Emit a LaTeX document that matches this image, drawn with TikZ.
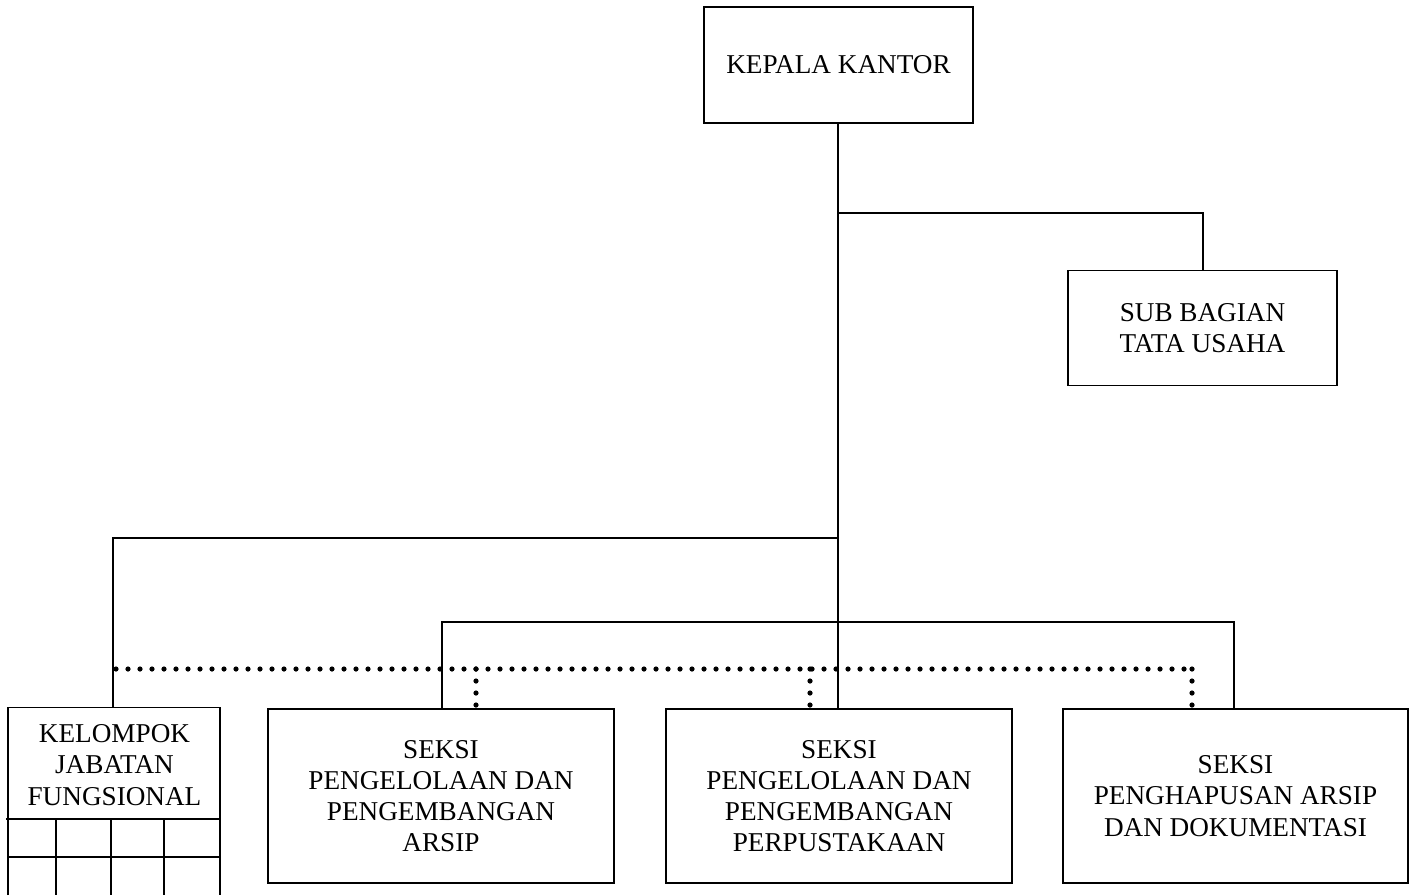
\documentclass[tikz,border=0pt]{standalone}
\usepackage{fontspec}
\setmainfont{Liberation Serif}
\begin{document}
\begin{tikzpicture}[x=0.5pt,y=-0.5pt,
  box/.style={draw,line width=0.7pt,inner sep=0pt,align=center,
    font=\fontsize{13.6pt}{15.6pt}\selectfont},
  txt/.style={inner sep=0pt,align=center,font=\fontsize{13.6pt}{15.6pt}\selectfont},
  conn/.style={line width=0.9pt},
  dotline/.style={line width=2.6pt,line cap=round,dash pattern=on 0pt off 6pt}]
\useasboundingbox (0,0) rectangle (1416,895);
\node[box,minimum width=134.5pt,minimum height=58pt] (kepala) at (838.5,65) {KEPALA KANTOR};
\node[box,minimum width=134.5pt,minimum height=57.75pt] (sub) at (1202.5,328) {SUB BAGIAN\\TATA USAHA};
\node[box,minimum width=173pt,minimum height=87pt] (b1) at (441,796) {SEKSI\\PENGELOLAAN DAN\\PENGEMBANGAN\\ARSIP};
\node[box,minimum width=173pt,minimum height=87pt] (b2) at (839,796) {SEKSI\\PENGELOLAAN DAN\\PENGEMBANGAN\\PERPUSTAKAAN};
\node[box,minimum width=172.5pt,minimum height=87pt] (b3) at (1235.5,796) {SEKSI\\PENGHAPUSAN ARSIP\\DAN DOKUMENTASI};
\node[txt] (kel) at (114.5,765) {KELOMPOK\\JABATAN\\FUNGSIONAL};
% Kelompok outline and grid
\draw[line width=0.7pt] (8,895) -- (8,707.5) -- (220,707.5) -- (220,895);
\draw[line width=0.9pt] (6,819) -- (219,819);
\draw[line width=0.9pt] (8,857) -- (220,857);
\foreach \xx in {56,111,164} \draw[line width=0.9pt] (\xx,819) -- (\xx,895);
\coordinate (kelTop) at (113,707.5);
% junction coordinates
\coordinate (j1) at (838,213);
\coordinate (j2) at (838,538);
\coordinate (j3) at (838,622);
\coordinate (kL) at (113,538);
\coordinate (sR) at (1203,213);
\coordinate (hL) at (442,622);
\coordinate (hR) at (1234,622);
% connectors
\draw[conn] (kepala.south -| j1) -- (b2.north -| j1);
\draw[conn] (j1) -- (sR) -- (sub.north -| sR);
\draw[conn] (j2) -- (kL) -- (kelTop);
\draw[conn] (hL |- b1.north) -- (hL) -- (hR) -- (hR |- b3.north);
% dotted lines
\coordinate (dL) at (116,669);
\coordinate (dR) at (1192,669);
\draw[dotline] (dL) -- (dR);
\draw[dotline] (476,669) -- (b1.north -| 476,0);
\draw[dotline] (810,669) -- (b2.north -| 810,0);
\draw[dotline] (dR) -- (b3.north -| dR);
\end{tikzpicture}
\end{document}
